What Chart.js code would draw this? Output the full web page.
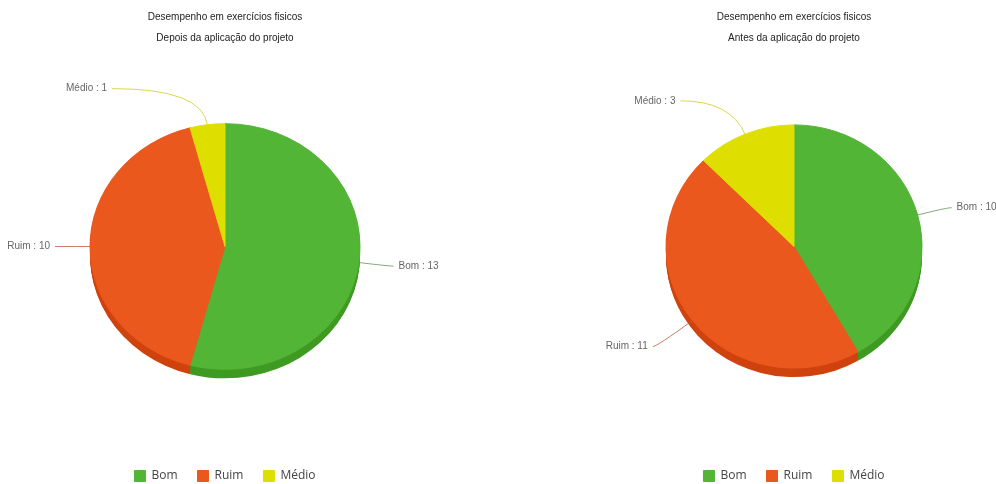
<!DOCTYPE html>
<html>
<head>
<meta charset="utf-8">
<script src="https://cdn.jsdelivr.net/npm/chart.js@4"></script>
<style>
  html, body { margin: 0; padding: 0; background: #fff; overflow: hidden; }
  .box { position: absolute; top: 0; height: 484px; }
  #boxDepois { left: 0; width: 450px; }
  #boxAntes { left: 592px; width: 404px; }
</style>
</head>
<body>
<div class="box" id="boxDepois"><canvas id="chartDepois"></canvas></div>
<div class="box" id="boxAntes"><canvas id="chartAntes"></canvas></div>
<script>
const categorias = ["Bom", "Ruim", "Médio"];
const depois = [13, 10, 1];
const antes = [10, 11, 3];
const tituloDepois = ["Desempenho em exercícios fisicos", "Depois da aplicação do projeto"];
const tituloAntes = ["Desempenho em exercícios fisicos", "Antes da aplicação do projeto"];

const cores = ["#52b535", "#ea581d", "#dedf00"];
const coresLado = ["#3f9a22", "#cf430e", "#b9ba00"];
const coresLinha = ["rgba(100,150,90,0.8)", "rgba(190,90,60,0.8)", "rgba(215,210,60,0.9)"];

const fonte = "'Liberation Sans', Arial, sans-serif";

// fake 3D pie: squashed vertically with an extruded rim underneath
const pie3d = {
  id: "pie3d",
  beforeDatasetsDraw(chart, args, opts) {
    const ctx = chart.ctx;
    const arcs = chart.getDatasetMeta(0).data;
    if (!arcs.length) return;
    const cx = arcs[0].x, cy = arcs[0].y;
    for (let d = opts.depth; d > 0; d--) {
      arcs.forEach((a, i) => {
        ctx.save();
        ctx.translate(cx, cy + d);
        ctx.scale(1, opts.squash);
        ctx.beginPath();
        ctx.moveTo(0, 0);
        ctx.arc(0, 0, a.outerRadius, a.startAngle, a.endAngle);
        ctx.closePath();
        ctx.fillStyle = coresLado[i];
        ctx.fill();
        ctx.restore();
      });
    }
    ctx.save();
    ctx.translate(cx, cy);
    ctx.scale(1, opts.squash);
    ctx.translate(-cx, -cy);
  },
  afterDatasetsDraw(chart, args, opts) {
    const ctx = chart.ctx;
    ctx.restore();
    const arcs = chart.getDatasetMeta(0).data;
    const valores = chart.data.datasets[0].data;
    ctx.save();
    ctx.font = "10px " + fonte;
    ctx.textBaseline = "middle";
    arcs.forEach((a, i) => {
      const m = (a.startAngle + a.endAngle) / 2;
      const c = Math.cos(m), s = Math.sin(m);
      const r = a.outerRadius;
      const L = opts.leader[i], run = opts.run[i];
      const x0 = a.x + r * c, y0 = a.y + opts.squash * r * s;
      const x1 = a.x + (r + L) * c, y1 = a.y + opts.squash * (r + L) * s;
      const dir = c >= 0 ? 1 : -1;
      const x2 = x1 + dir * run;
      ctx.strokeStyle = coresLinha[i];
      ctx.lineWidth = 1;
      ctx.beginPath();
      ctx.moveTo(x0, y0);
      ctx.quadraticCurveTo(x1, y1, x2, y1);
      ctx.stroke();
      ctx.fillStyle = "#666";
      ctx.textAlign = dir > 0 ? "left" : "right";
      ctx.fillText(chart.data.labels[i] + " : " + valores[i], x2 + dir * 5, y1);
    });
    ctx.restore();
  }
};

function criarGrafico(id, valores, titulo, raio, squash, leader, run) {
  return new Chart(document.getElementById(id), {
    type: "pie",
    data: {
      labels: categorias,
      datasets: [{
        data: valores,
        backgroundColor: cores,
        borderColor: cores,
        borderWidth: 1,
        radius: raio,
      }],
    },
    options: {
      responsive: true,
      maintainAspectRatio: false,
      animation: false,
      layout: { padding: { bottom: -8 } },
      plugins: {
        title: {
          display: true,
          text: titulo,
          color: "#222",
          font: { family: fonte, size: 10, weight: "normal", lineHeight: 2.09 },
          padding: { top: 7, bottom: -5.8 },
        },
        legend: {
          position: "bottom",
          labels: {
            color: "#444",
            boxWidth: 11,
            boxHeight: 11,
            padding: 20,
            font: { family: "'Open Sans', sans-serif", size: 12 },
          },
        },
        tooltip: { enabled: false },
        pie3d: { depth: 9, squash: squash, leader: leader, run: run },
      },
    },
    plugins: [pie3d],
  });
}

criarGrafico("chartDepois", depois, tituloDepois, 135, 0.91, [30, 30, 40], [5, 5, 90]);
criarGrafico("chartAntes", antes, tituloAntes, 128, 0.95, [30, 45, 38], [5, 4, 50]);
</script>
</body>
</html>
